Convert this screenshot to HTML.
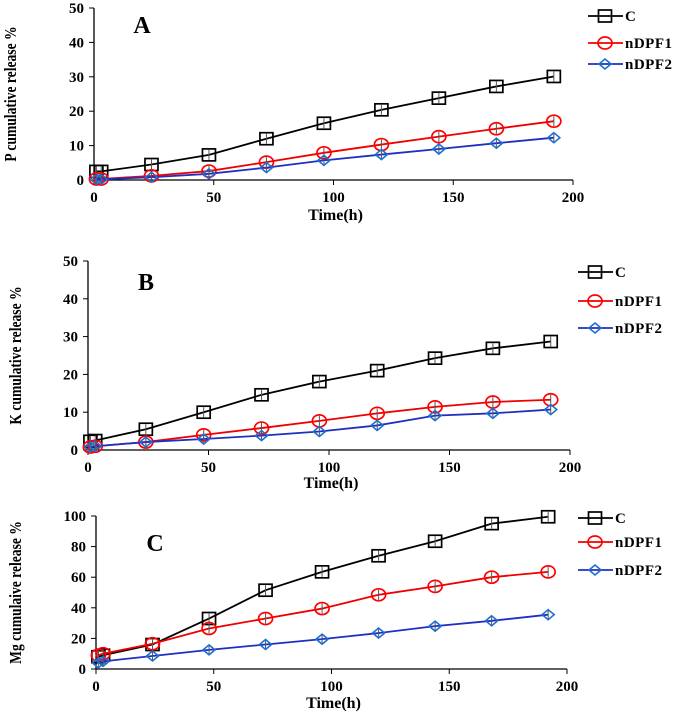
<!DOCTYPE html>
<html><head><meta charset="utf-8"><style>
html,body{margin:0;padding:0;background:#fff;}
svg{display:block;font-family:"Liberation Serif",serif;font-weight:bold;}
</style></head><body>
<svg id="chart" width="685" height="713" viewBox="0 0 685 713"></svg>
<script>
const times = [1,3,24,48,72,96,120,144,168,192];
const seriesNames = ["C","nDPF1","nDPF2"];
const xTicks = [0,50,100,150,200];
const yTicksAB = [0,10,20,30,40,50];
const yTicksC = [0,20,40,60,80,100];
const aC = [2.5,2.5,4.5,7.3,12,16.5,20.4,23.8,27.2,30.1];
const aF1 = [0.3,0.3,1.2,2.6,5.2,7.9,10.3,12.6,14.9,17.1];
const aF2 = [0.2,0.2,0.8,1.8,3.6,5.7,7.4,9.0,10.7,12.3];
const bC = [2.3,2.5,5.5,10,14.6,18.1,21,24.3,26.9,28.7];
const bF1 = [0.8,1,2.1,4,5.8,7.7,9.7,11.4,12.7,13.3];
const bF2 = [0.8,1,2.1,2.9,3.8,4.9,6.5,9.1,9.7,10.7];
const cC = [8,9,16,33,51.5,63.5,74,83.5,95,99.5];
const cF1 = [9,10,16.5,26.5,33,39.5,48.5,54,60,63.5];
const cF2 = [4,5,8.5,12.5,16,19.5,23.5,28,31.5,35.5];

const svg = document.getElementById('chart');
const NS = 'http://www.w3.org/2000/svg';
function mk(tag, attrs, parent){
  const e = document.createElementNS(NS, tag);
  for (const k in attrs) e.setAttribute(k, attrs[k]);
  (parent||svg).appendChild(e);
  return e;
}
const colors = ["#000","#e00","#1f2fc0"];
const markStroke = ["#000","#f00","#1e6fd0"];

function marker(g, type, x, y, i){
  let m;
  if (type===0) m = mk('rect',{x:x-6.5,y:y-6,width:13,height:12,fill:'none',stroke:markStroke[i],'stroke-width':1.7},g);
  else if (type===1) m = mk('ellipse',{cx:x,cy:y,rx:7,ry:6,fill:'none',stroke:markStroke[i],'stroke-width':1.7},g);
  else m = mk('polygon',{points:`${x},${y-5} ${x+6},${y} ${x},${y+5} ${x-6},${y}`,fill:'none',stroke:markStroke[i],'stroke-width':1.6},g);
  
  
}

function panel(p){
  const g = mk('g',{});
  
  
  const yMax = p.yTicks[p.yTicks.length-1];
  const sx = v => p.x0 + (v/200)*(p.x1-p.x0);
  const sy = v => p.y0 - (v/yMax)*(p.y0-p.yTop);
  const ax = mk('path',{d:`M${p.x0},${p.yTop} V${p.y0} H${p.x1}`,fill:'none',stroke:'#000','stroke-width':1.3},g);
  
  
  p.yTicks.forEach(t=>{
    mk('line',{x1:p.x0-5,x2:p.x0,y1:sy(t),y2:sy(t),stroke:'#000','stroke-width':1},g);
    const tx = mk('text',{x:p.x0-10,y:sy(t)+5,'text-anchor':'end','font-size':15},g);
    tx.textContent=t;
    
    
  });
  xTicks.forEach(t=>{
    mk('line',{x1:sx(t),x2:sx(t),y1:p.y0,y2:p.y0+5,stroke:'#000','stroke-width':1},g);
    const tx = mk('text',{x:sx(t),y:p.y0+22,'text-anchor':'middle','font-size':15},g);
    tx.textContent=t;
    
    
  });
  const xt = mk('text',{x:(p.x0+p.x1)/2+2,y:p.xTitleY,'text-anchor':'middle','font-size':16},g);
  xt.textContent='Time(h)';
  
  
  const yt = mk('text',{x:0,y:0,'text-anchor':'middle','font-size':17,transform:`translate(${p.yTitleX},${(p.y0+p.yTop)/2}) rotate(-90) scale(0.8,1)`},g);
  yt.textContent=p.yTitle;
  
  
  const lt = mk('text',{x:p.lx,y:p.ly,'text-anchor':'middle','font-size':24},g);
  lt.textContent=p.letter;
  
  
  p.series.forEach((vals,i)=>{
    const d = vals.map((v,j)=>(j?'L':'M')+sx(times[j])+','+sy(v)).join(' ');
    const ln = mk('path',{d:d,fill:'none',stroke:colors[i],'stroke-width':1.8},g);
    
    
    vals.forEach((v,j)=>{
      mk('line',{x1:sx(times[j]),x2:sx(times[j]),y1:sy(v)-5,y2:sy(v)+5,stroke:'#555','stroke-width':1},g);
      marker(g,i,sx(times[j]),sy(v),i);
    });
    const ly = p.legY[i];
    const lg = mk('line',{x1:p.legX,x2:p.legX+35,y1:ly,y2:ly,stroke:colors[i],'stroke-width':1.8},g);
    
    
    marker(g,i,p.legX+17,ly,i);
    const lt2 = mk('text',{x:p.legX+37,y:ly+5,'font-size':15,'letter-spacing':'0.5'},g);
    lt2.textContent=seriesNames[i];
    
    
  });
}
panel({letter:'A',x0:94,x1:573,y0:180,yTop:8,yTicks:yTicksAB,series:[aC,aF1,aF2],xTitleY:220,yTitleX:16,yTitle:'P cumulative release %',lx:142,ly:33,legX:588,legY:[16,43,64]});
panel({letter:'B',x0:88,x1:570,y0:450,yTop:261,yTicks:yTicksAB,series:[bC,bF1,bF2],xTitleY:488,yTitleX:21,yTitle:'K cumulative release %',lx:146,ly:290,legX:578,legY:[272,301,328]});
panel({letter:'C',x0:96,x1:567,y0:669,yTop:516,yTicks:yTicksC,series:[cC,cF1,cF2],xTitleY:708,yTitleX:21,yTitle:'Mg cumulaive release %',lx:155,ly:551,legX:578,legY:[518,542,570]});
</script>
</body></html>
